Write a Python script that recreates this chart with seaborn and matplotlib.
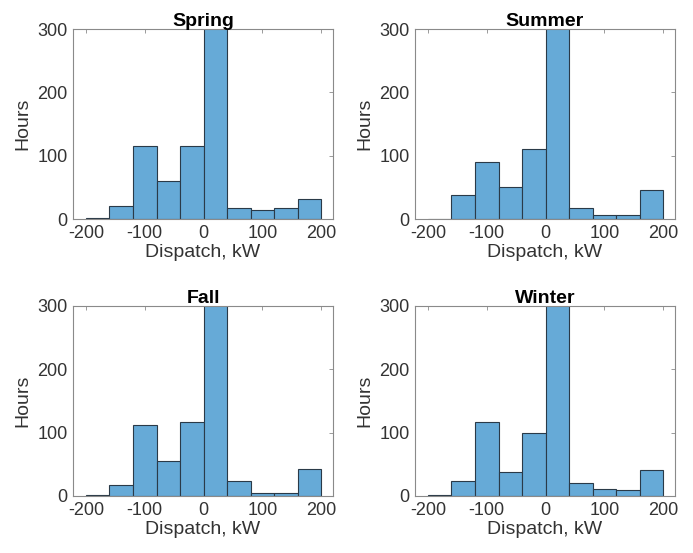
import numpy as np
import pandas as pd
import matplotlib
matplotlib.use('Agg')
import matplotlib.pyplot as plt
import seaborn as sns

# Bin edges and per-season hour counts
bin_edges = [-200, -160, -120, -80, -40, 0, 40, 80, 120, 160, 200]
seasons = ['Spring', 'Summer', 'Fall', 'Winter']
spring_hours = [1, 20, 115, 60, 115, 360, 17, 15, 17, 31]
summer_hours = [0, 38, 90, 50, 110, 360, 18, 7, 6, 46]
fall_hours = [1, 18, 112, 56, 117, 360, 24, 4, 5, 43]
winter_hours = [1, 23, 117, 38, 100, 360, 20, 11, 10, 41]
x_ticks = [-200, -100, 0, 100, 200]
y_ticks = [0, 100, 200, 300]

season_hours = {
    'Spring': spring_hours,
    'Summer': summer_hours,
    'Fall': fall_hours,
    'Winter': winter_hours,
}

sns.set_style('white')
plt.rcParams['font.family'] = ['Liberation Sans', 'DejaVu Sans']
plt.rcParams['axes.unicode_minus'] = False

edges = np.array(bin_edges)
centers = (edges[:-1] + edges[1:]) / 2

fig = plt.figure(figsize=(6.93, 5.53), dpi=100)
W, H = 693, 553
# axes boxes in pixels: left, top, right, bottom
boxes = [(73, 29, 333, 219), (415, 29, 675, 219),
         (73, 306, 333, 496), (415, 306, 675, 496)]

text_color = '#333333'
spine_color = '#8a8a8a'

for name, (l, t, r, b) in zip(seasons, boxes):
    ax = fig.add_axes([l / W, 1 - b / H, (r - l) / W, (b - t) / H])
    df = pd.DataFrame({'dispatch': centers, 'hours': season_hours[name]})
    sns.histplot(data=df, x='dispatch', weights='hours', bins=bin_edges,
                 color='#66aad7', alpha=1.0, edgecolor='#2a3a48',
                 linewidth=0.8, ax=ax)
    ax.set_xlim(-222, 220)
    ax.set_ylim(0, 300)
    ax.set_xticks(x_ticks)
    ax.set_yticks(y_ticks)
    ax.tick_params(direction='in', length=3, width=0.6, colors=spine_color,
                   labelcolor=text_color, labelsize=13, top=True, right=True,
                   pad=4)
    for s in ax.spines.values():
        s.set_visible(True)
        s.set_color(spine_color)
        s.set_linewidth(0.8)
    ax.set_title(name, fontsize=14, fontweight='bold', color='black', pad=2)
    ax.set_xlabel('Dispatch, kW', fontsize=14, color=text_color, labelpad=2)
    ax.set_ylabel('Hours', fontsize=14, color=text_color, labelpad=4)

fig.savefig('out.png', dpi=100, facecolor='white')
